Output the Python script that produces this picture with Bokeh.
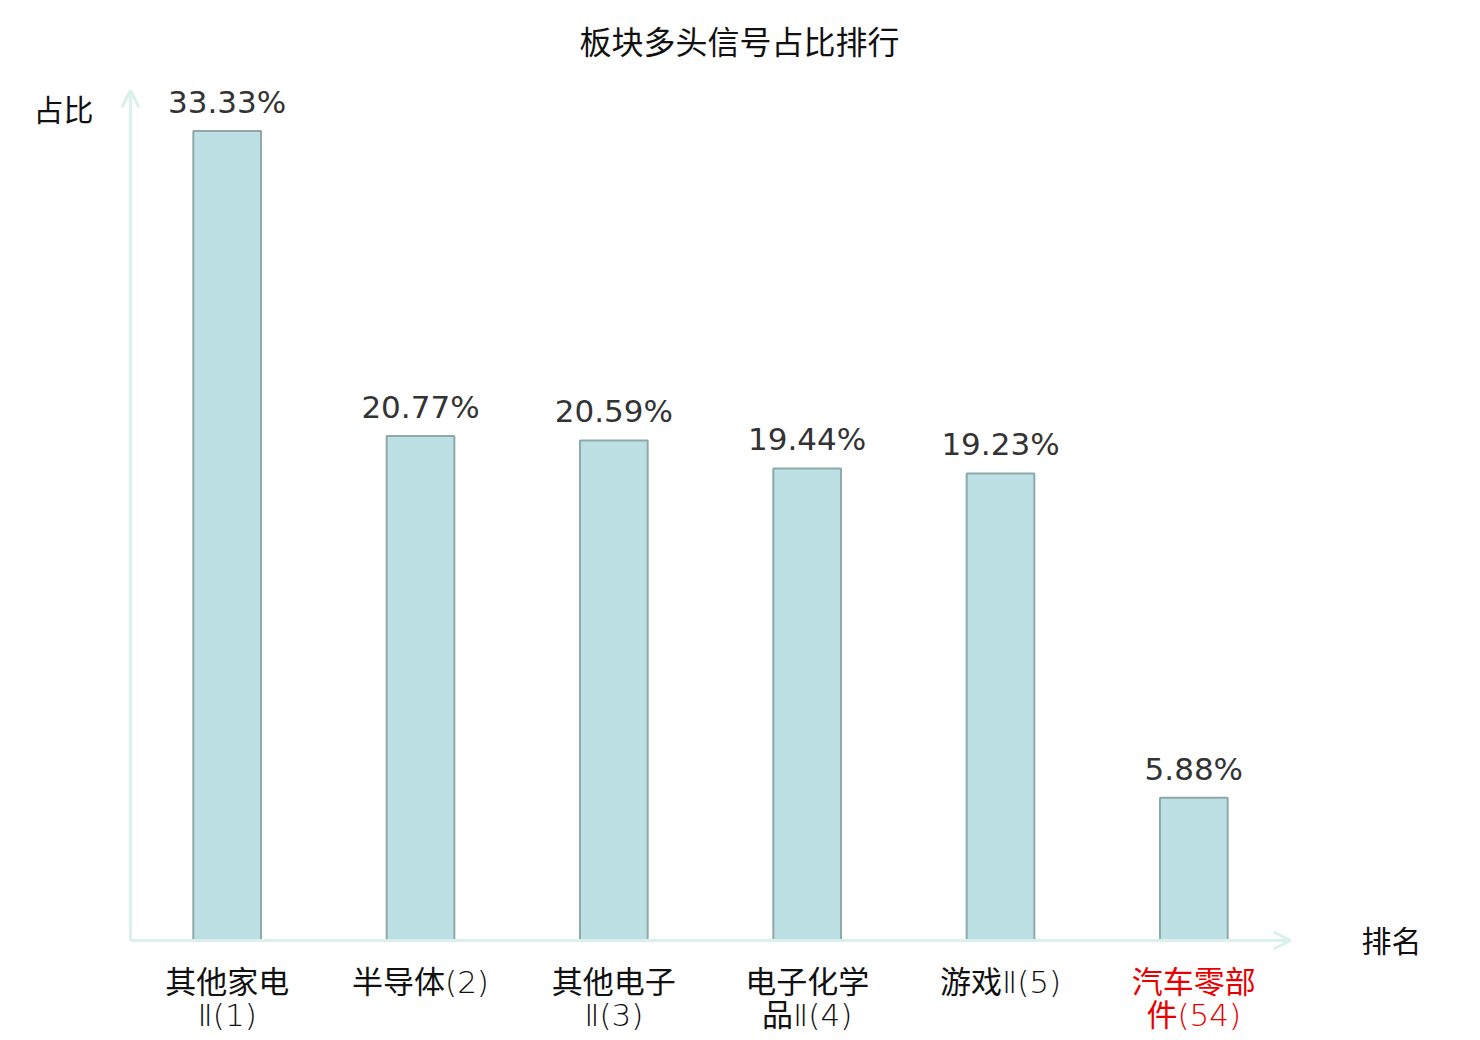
from bokeh.plotting import figure
from bokeh.models import ColumnDataSource, Range1d, LabelSet, Label, Arrow, OpenHead
from bokeh.core.properties import value
from bokeh.embed import file_html
from bokeh.resources import INLINE

categories = ["其他家电Ⅱ(1)", "半导体(2)", "其他电子Ⅱ(3)", "电子化学品Ⅱ(4)", "游戏Ⅱ(5)", "汽车零部件(54)"]
tick_labels = ["其他家电\nⅡ(1)", "半导体(2)", "其他电子\nⅡ(3)", "电子化学\n品Ⅱ(4)", "游戏Ⅱ(5)", "汽车零部\n件(54)"]
values = [33.33, 20.77, 20.59, 19.44, 19.23, 5.88]
value_labels = ["33.33%", "20.77%", "20.59%", "19.44%", "19.23%", "5.88%"]
label_colors = ["#111111", "#111111", "#111111", "#111111", "#111111", "#e80000"]

title_text = "板块多头信号占比排行"
y_name = "占比"
x_name = "排名"
y_max = 35

W, H = 1472, 1036
# plot area: categories span screen x 130..1290, y=0 at screen 940, y_max at screen 90
px_per_cat = (1290 - 130) / len(categories)
px_per_unit = (940 - 90) / y_max
x0 = -130 / px_per_cat
x1 = (W - 130) / px_per_cat
y1 = 940 / px_per_unit
y0 = -(H - 940) / px_per_unit

p = figure(width=W, height=H, output_backend="svg", toolbar_location=None,
           x_range=Range1d(x0, x1), y_range=Range1d(y0, y1), min_border=0)
p.xaxis.visible = False
p.yaxis.visible = False
p.grid.visible = False
p.outline_line_color = None
p.background_fill_color = "white"
p.border_fill_color = "white"

xpos = [i + 0.5 for i in range(len(categories))]
line1 = [t.split("\n")[0] for t in tick_labels]
line2 = [t.split("\n")[1] if "\n" in t else "" for t in tick_labels]
src = ColumnDataSource(dict(cat=categories, x=xpos, val=values, vlab=value_labels,
                            l1=line1, l2=line2, tcol=label_colors, zero=[0] * len(categories)))

p.vbar(x="x", top="val", width=0.35, source=src, fill_color="#bce0e3",
       line_color="#8ea9aa", line_width=2)

p.add_layout(LabelSet(x="x", y="val", text="vlab", source=src, text_align="center",
                      text_baseline="alphabetic", y_offset=18, text_font=value("DejaVu Sans"),
                      text_font_size="31px", text_color="#333333"))

tick_font = value("DejaVu Sans Light, Noto Sans CJK SC")
p.add_layout(LabelSet(x="x", y="zero", text="l1", source=src, text_align="center",
                      text_baseline="middle", y_offset=-41, text_font=tick_font,
                      text_font_size="31px", text_color="tcol"))
p.add_layout(LabelSet(x="x", y="zero", text="l2", source=src, text_align="center",
                      text_baseline="middle", y_offset=-74, text_font=tick_font,
                      text_font_size="31px", text_color="tcol"))

axis_col = "#daf0ec"
p.add_layout(Arrow(x_start=0, y_start=0, x_end=len(categories), y_end=0, line_color=axis_col,
                   line_width=3, end=OpenHead(size=17, line_color=axis_col, line_width=3)))
p.add_layout(Arrow(x_start=0, y_start=0, x_end=0, y_end=y_max, line_color=axis_col,
                   line_width=3, end=OpenHead(size=17, line_color=axis_col, line_width=3)))

p.add_layout(Label(x=(739 - 130) / px_per_cat, y=(940 - 39) / px_per_unit, text=title_text,
                   text_align="center", text_baseline="middle",
                   text_font="Noto Sans CJK SC", text_font_size="32px", text_color="#111111"))
p.add_layout(Label(x=(63 - 130) / px_per_cat, y=(940 - 107) / px_per_unit, text=y_name,
                   text_align="center", text_baseline="middle",
                   text_font="Noto Sans CJK SC", text_font_size="30px", text_color="#111111"))
p.add_layout(Label(x=(1391 - 130) / px_per_cat, y=(940 - 938) / px_per_unit, text=x_name,
                   text_align="center", text_baseline="middle",
                   text_font="Noto Sans CJK SC", text_font_size="30px", text_color="#111111"))

open("out.html", "w").write(file_html(p, INLINE))
